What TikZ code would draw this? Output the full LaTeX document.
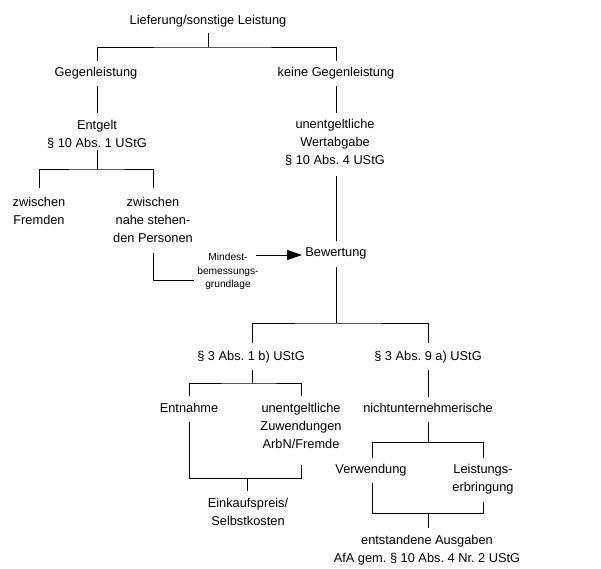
\documentclass[tikz,border=0pt]{standalone}
\usepackage{fontspec}
\setmainfont{Liberation Sans}
\usetikzlibrary{arrows.meta}
\frenchspacing
\begin{document}
\begin{tikzpicture}[x=1pt,y=-1pt,
  lbl/.style={align=center, inner sep=0pt, font=\fontsize{12.8}{18}\selectfont},
  small/.style={align=center, inner sep=0pt, font=\fontsize{10.2}{13.5}\selectfont},
  conn/.style={line width=1pt, line join=miter},
  arr/.style={conn, -{Triangle[length=15pt,width=10pt]}}]
\useasboundingbox (0,0) rectangle (601,568);
\fill[white] (0,0) rectangle (601,568);
% nodes
\node[lbl] (lief) at (208,21) {Lieferung/sonstige Leistung};
\node[lbl] (gegen) at (96,73) {Gegenleistung};
\node[lbl] (keine) at (336,73) {keine Gegenleistung};
\node[lbl] (entgelt) at (97,134) {Entgelt\\\S\ 10 Abs. 1 UStG};
\node[lbl] (unentg) at (335,142.5) {unentgeltliche\\Wertabgabe\\\S\ 10 Abs. 4 UStG};
\node[lbl] (zf) at (39,210.5) {zwischen\\Fremden};
\node[lbl] (znp) at (153,219.5) {zwischen\\nahe stehen-\\den Personen};
\node[small] (mind) at (228,271.5) {Mindest-\\bemessungs-\\grundlage};
\node[lbl] (bew) at (336,253) {Bewertung};
\node[lbl] (s31) at (251,357) {\S\ 3 Abs. 1 b) UStG};
\node[lbl] (s39) at (428,357) {\S\ 3 Abs. 9 a) UStG};
\node[lbl] (entn) at (189,408) {Entnahme};
\node[lbl] (unz) at (301,426) {unentgeltliche\\Zuwendungen\\ArbN/Fremde};
\node[lbl] (nicht) at (428,408) {nichtunternehmerische};
\node[lbl] (verw) at (371,470) {Verwendung};
\node[lbl] (leist) at (483,479) {Leistungs-\\erbringung};
\node[lbl] (einkauf) at (248,511.5) {Einkaufspreis/\\Selbstkosten};
\node[lbl] (entst) at (427,550) {entstandene Ausgaben\\AfA gem. \S\ 10 Abs. 4 Nr. 2 UStG};
% connector points
\coordinate (liefB) at (208,33);   \coordinate (j1) at (208,47);
\coordinate (gegenT) at (97,61);   \coordinate (keineT) at (336,61);
\coordinate (gegenB) at (97,86);   \coordinate (entgeltT) at (97,113);
\coordinate (keineB) at (336,86);  \coordinate (unentgT) at (336,113);
\coordinate (entgeltB) at (97,150); \coordinate (j2) at (97,169);
\coordinate (zfT) at (39,188);     \coordinate (znpT) at (153,188);
\coordinate (unentgB) at (336,176); \coordinate (bewT) at (336,241);
\coordinate (znpB) at (153,253);   \coordinate (mindL) at (194,280);
\coordinate (mindR) at (256,255);  \coordinate (bewL) at (302,255);
\coordinate (bewB) at (336,267);   \coordinate (j3) at (336,323);
\coordinate (s31T) at (252,343);   \coordinate (s39T) at (428,343);
\coordinate (s31B) at (252,370);   \coordinate (j4) at (252,383);
\coordinate (entnT) at (189,396);  \coordinate (unzT) at (301,396);
\coordinate (s39B) at (428,370);   \coordinate (nichtT) at (428,397);
\coordinate (entnB) at (189,422);  \coordinate (unzB) at (301,465);
\coordinate (j5) at (247,478);     \coordinate (einkaufT) at (247,491);
\coordinate (nichtB) at (428,422); \coordinate (j6) at (428,442);
\coordinate (verwT) at (372,458);  \coordinate (leistT) at (483,458);
\coordinate (verwB) at (372,483);  \coordinate (leistB) at (483,502);
\coordinate (j7) at (428,513);     \coordinate (entstT) at (428,528);
% connectors
\draw[conn] (liefB) -- (j1);
\draw[conn] (gegenT) |- (j1) -| (keineT);
\draw[conn] (gegenB) -- (entgeltT);
\draw[conn] (keineB) -- (unentgT);
\draw[conn] (entgeltB) -- (j2);
\draw[conn] (zfT) |- (j2) -| (znpT);
\draw[conn] (unentgB) -- (bewT);
\draw[conn] (znpB) |- (mindL);
\draw[arr] (mindR) -- (bewL);
\draw[conn] (bewB) -- (j3);
\draw[conn] (s31T) |- (j3) -| (s39T);
\draw[conn] (s31B) -- (j4);
\draw[conn] (entnT) |- (j4) -| (unzT);
\draw[conn] (s39B) -- (nichtT);
\draw[conn] (entnB) |- (j5) -| (unzB);
\draw[conn] (j5) -- (einkaufT);
\draw[conn] (nichtB) -- (j6);
\draw[conn] (verwT) |- (j6) -| (leistT);
\draw[conn] (verwB) |- (j7) -| (leistB);
\draw[conn] (j7) -- (entstT);
\end{tikzpicture}
\end{document}
